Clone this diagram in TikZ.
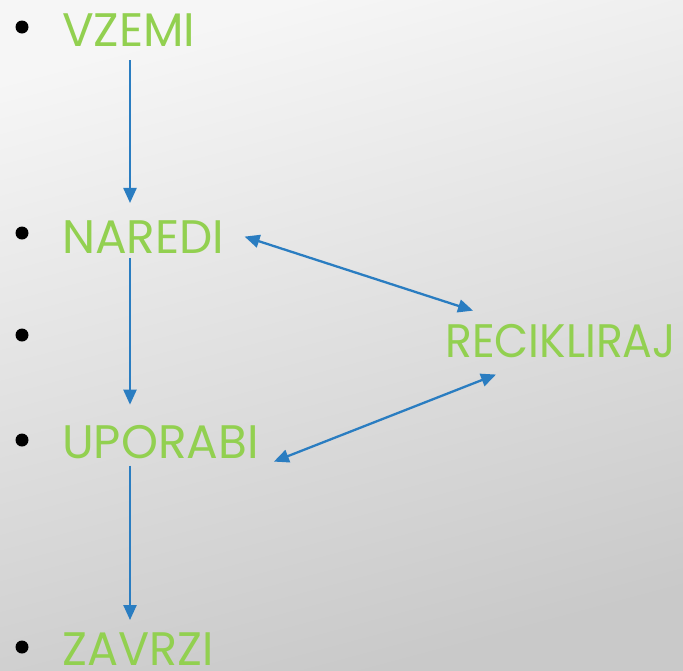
\documentclass[tikz,border=0pt]{standalone}
\usepackage{fontspec}
\setmainfont{Poppins}
\usetikzlibrary{arrows.meta, calc}

\definecolor{leafgreen}{HTML}{92D050}
\definecolor{flowblue}{HTML}{2A7DC1}
\definecolor{bgtop}{HTML}{F6F6F6}
\definecolor{bgbottom}{HTML}{C9C9C9}

\tikzset{
  word/.style={text=leafgreen, font=\fontsize{47}{47}\selectfont,
    anchor=base west, inner sep=0pt},
  flow/.style={draw=flowblue, line width=2.3pt,
    -{Triangle[length=15pt,width=13pt]}},
  twoway/.style={draw=flowblue, line width=2.3pt,
    {Triangle[length=15pt,width=13pt]}-{Triangle[length=15pt,width=13pt]}},
}

\begin{document}
\begin{tikzpicture}[x=1pt,y=-1pt]
    \shade[top color=bgtop, bottom color=bgbottom, shading angle=15] (0,0) rectangle (683,670);
    \useasboundingbox (0,0) rectangle (683,670);
    % bullets
    \foreach \y in {27,233,335,440,647}
      \fill[black] (22,\y) circle (6.5);
    % words
    \node[word] (vzemi) at (62,46) {VZEMI};
    \node[word] (naredi) at (62,253) {NAREDI};
    \node[word] (recikliraj) at (445,357) {\scalebox{0.94}[1]{RECIKLIRAJ}};
    \node[word] (uporabi) at (62,458) {UPORABI};
    \node[word] (zavrzi) at (62,665) {\scalebox{0.98}[1]{ZAVRZI}};
    \coordinate (axis) at (130,0);
    % arrows
    \draw[flow] ($(vzemi.south -| axis)+(0,14)$) -- ($(naredi.north -| axis)+(0,-17)$);
    \draw[flow] ($(naredi.south -| axis)+(0,5)$) -- ($(uporabi.north -| axis)+(0,-20)$);
    \draw[flow] ($(uporabi.south -| axis)+(0,7)$) -- ($(zavrzi.north -| axis)+(0,-12)$);
    \draw[twoway] ($(naredi.east)+(20,0)$) -- ($(recikliraj.north west)+(28,-13)$);
    \draw[twoway] ($(uporabi.east)+(15,20)$) -- ($(recikliraj.south west)+(51,17)$);
  \end{tikzpicture}
\end{document}
